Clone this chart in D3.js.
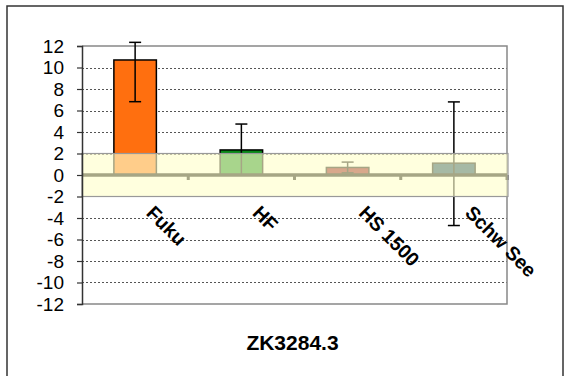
<!DOCTYPE html>
<html><head><meta charset="utf-8">
<script src="https://cdn.jsdelivr.net/npm/d3@7"></script>
<style>body{margin:0;background:#fff}svg{display:block}text{font-family:"Liberation Sans",Arial,sans-serif}</style>
</head><body><svg id="c" width="565" height="376"></svg>
<script>
const categories = ["Fuku", "HF", "HS 1500", "Schw See"];
const values = [10.7, 2.33, 0.7, 1.1];
const errHigh = [12.34, 4.74, 1.2, 6.8];
const errLow = [6.82, 0.0, 0.2, -4.7];
const barColors = ["#FF6F0F", "#068715", "#8F0615", "#00375C"];
const yTicks = [-12, -10, -8, -6, -4, -2, 0, 2, 4, 6, 8, 10, 12];
const bandRange = [-2, 2];
const title = "ZK3284.3";

const svg = d3.select("#c");
const L = 82, R = 507, T = 46, B = 304;
const x = d3.scaleBand().domain(categories).range([L, R]).padding(0);
const y = d3.scaleLinear().domain([-12, 12]).range([B, T]);
const bw = x.bandwidth() * 0.4;

// outer border
svg.append("rect").attr("x", 7).attr("y", 6).attr("width", 556).attr("height", 380)
  .attr("fill", "#fff").attr("stroke", "#333").attr("stroke-width", 1.5);

// gridlines
svg.append("g").selectAll("line").data(yTicks.filter(d => d !== 0 && d !== 12 && d !== -12)).join("line")
  .attr("x1", L).attr("x2", R).attr("y1", d => Math.round(y(d)) + 0.5).attr("y2", d => Math.round(y(d)) + 0.5)
  .attr("stroke", "#555").attr("stroke-width", 1).attr("stroke-dasharray", "2,2");
// plot border top/right/bottom
svg.append("path").attr("d", `M${L},${y(12)}H${R}V${y(-12)}H${L}`)
  .attr("fill", "none").attr("stroke", "#888").attr("stroke-width", 1.5);

// bars
svg.append("g").selectAll("rect").data(categories).join("rect")
  .attr("x", d => x(d) + (x.bandwidth() - bw) / 2)
  .attr("width", bw)
  .attr("y", (d, i) => y(Math.max(0, values[i])))
  .attr("height", (d, i) => Math.abs(y(values[i]) - y(0)))
  .attr("fill", (d, i) => barColors[i])
  .attr("stroke", "#000").attr("stroke-width", 1.5);

// error bars
const eg = svg.append("g").attr("stroke", "#000").attr("stroke-width", 1.5);
categories.forEach((c, i) => {
  const cx = x(c) + x.bandwidth() / 2;
  eg.append("line").attr("x1", cx).attr("x2", cx).attr("y1", y(errHigh[i])).attr("y2", y(errLow[i]));
  eg.append("line").attr("x1", cx - 6).attr("x2", cx + 6).attr("y1", y(errHigh[i])).attr("y2", y(errHigh[i]));
  eg.append("line").attr("x1", cx - 6).attr("x2", cx + 6).attr("y1", y(errLow[i])).attr("y2", y(errLow[i]));
});

// zero axis line + category ticks
svg.append("line").attr("x1", L).attr("x2", R).attr("y1", y(0)).attr("y2", y(0))
  .attr("stroke", "#000").attr("stroke-width", 3.5);
svg.append("g").selectAll("line").data(categories).join("line")
  .attr("x1", d => x(d) + x.bandwidth()).attr("x2", d => x(d) + x.bandwidth())
  .attr("y1", y(0)).attr("y2", y(0) + 5).attr("stroke", "#000").attr("stroke-width", 3);

// translucent band overlay
svg.append("rect").attr("x", L).attr("width", R - L + 1)
  .attr("y", y(bandRange[1])).attr("height", y(bandRange[0]) - y(bandRange[1]))
  .attr("fill", "rgb(255,255,204)").attr("fill-opacity", 0.65)
  .attr("stroke", "#999").attr("stroke-width", 1.2);

// y axis
const yAxis = svg.append("g").attr("transform", `translate(${L},0)`)
  .call(d3.axisLeft(y).tickValues(yTicks).tickSize(5).tickPadding(13).tickFormat(d3.format("d")));
yAxis.select(".domain").attr("stroke", "#333").attr("stroke-width", 1.5);
yAxis.selectAll(".tick line").attr("stroke", "#333").attr("stroke-width", 1.2);
yAxis.selectAll("text").attr("font-size", 19).attr("fill", "#000")
  .style("font-family", "'Liberation Sans',Arial,sans-serif");
yAxis.selectAll(".tick text").text(d => d < 0 ? "-" + Math.abs(d) : d);

// category labels
svg.append("g").selectAll("text").data(categories).join("text")
  .attr("transform", d => `translate(${x(d) + x.bandwidth() / 2 + 10},214) rotate(45)`)
  .attr("font-size", 19.5).attr("font-weight", "bold").attr("fill", "#000")
  .text(d => d);

// title
svg.append("text").attr("x", (L + R) / 2 - 2).attr("y", 350).attr("text-anchor", "middle")
  .attr("font-size", 21).attr("font-weight", "bold").attr("fill", "#000").text(title);
</script></body></html>
